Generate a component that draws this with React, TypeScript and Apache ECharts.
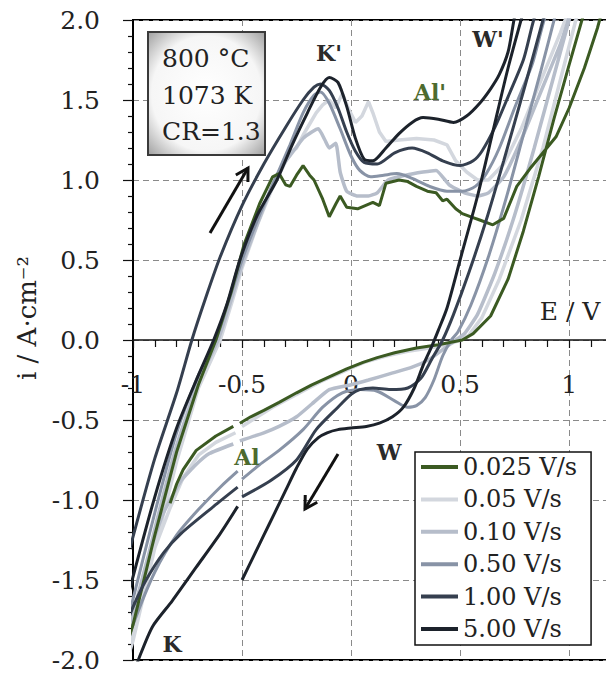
import React, { useEffect, useRef } from 'react';
import * as echarts from 'echarts';

type P = [number, number];

const speeds = ['0.025 V/s', '0.05 V/s', '0.10 V/s', '0.50 V/s', '1.00 V/s', '5.00 V/s'];
const colors = ['#3b5a22', '#d3d7de', '#b6bdca', '#8893a6', '#353f4f', '#1c222b'];
const xTicks = [-1, -0.5, 0, 0.5, 1];
const yTicks = [-2, -1.5, -1, -0.5, 0, 0.5, 1, 1.5, 2];

// 0.025 V/s
const fwd025: P[] = [[-1.05,-2.0],[-1,-1.78],[-0.9,-1.22],[-0.8,-0.7],[-0.7,-0.28],[-0.62,0],[-0.55,0.3],[-0.49,0.6],[-0.42,0.85],[-0.36,1.02],[-0.33,1.04],[-0.3,0.97],[-0.28,0.96],[-0.25,1.03],[-0.22,1.09],[-0.19,1.03],[-0.17,1.0],[-0.13,0.88],[-0.1,0.77],[-0.07,0.85],[-0.05,0.9],[-0.02,0.83],[0.03,0.82],[0.1,0.86],[0.13,0.84],[0.16,0.98],[0.22,1.0],[0.26,0.99],[0.3,0.96],[0.35,0.93],[0.39,0.92],[0.42,0.87],[0.44,0.88],[0.48,0.82],[0.51,0.79],[0.55,0.77],[0.59,0.75],[0.65,0.72],[0.7,0.76],[0.76,0.96],[0.82,1.07],[0.88,1.17],[0.94,1.27],[1.0,1.45],[1.07,1.7],[1.13,1.95],[1.16,2.1]];
const rev025a: P[] = [[1.08,2.1],[1.0,1.72],[0.93,1.38],[0.86,1.02],[0.79,0.68],[0.72,0.38],[0.64,0.15],[0.56,0.04],[0.51,0],[0.4,-0.03],[0.3,-0.05],[0.2,-0.08],[0.12,-0.11],[0.055,-0.14],[-0.02,-0.18],[-0.1,-0.23],[-0.18,-0.28],[-0.25,-0.33],[-0.33,-0.39],[-0.4,-0.44],[-0.46,-0.48],[-0.51,-0.52]];
const rev025b: P[] = [[-0.54,-0.54],[-0.62,-0.6],[-0.71,-0.69],[-0.77,-0.81],[-0.8,-0.9],[-0.83,-1.02]];

// 0.05 V/s
const fwd005: P[] = [[-1.05,-2.1],[-1,-1.88],[-0.9,-1.3],[-0.8,-0.76],[-0.7,-0.3],[-0.6,0],[-0.55,0.22],[-0.5,0.45],[-0.43,0.72],[-0.37,0.92],[-0.32,1.06],[-0.28,1.17],[-0.25,1.2],[-0.22,1.28],[-0.19,1.35],[-0.16,1.42],[-0.13,1.47],[-0.1,1.5],[-0.07,1.45],[-0.04,1.54],[-0.01,1.44],[0.02,1.36],[0.05,1.4],[0.08,1.49],[0.1,1.42],[0.13,1.3],[0.16,1.24],[0.22,1.25],[0.3,1.26],[0.38,1.25],[0.44,1.22],[0.48,1.12],[0.53,1.05],[0.58,1.0],[0.63,1.0],[0.7,1.1],[0.78,1.32],[0.87,1.62],[0.96,1.92],[1.01,2.1]];
const rev005a: P[] = [[1.05,2.1],[0.97,1.68],[0.88,1.2],[0.78,0.75],[0.68,0.38],[0.6,0.14],[0.54,0.03],[0.5,0.0],[0.44,-0.03],[0.36,-0.05],[0.26,-0.07],[0.16,-0.1],[0.06,-0.14],[-0.04,-0.2],[-0.14,-0.26],[-0.25,-0.34],[-0.36,-0.42],[-0.5,-0.54]];
const rev005b: P[] = [[-0.53,-0.58],[-0.62,-0.64],[-0.7,-0.72],[-0.77,-0.86],[-0.83,-1.05],[-0.9,-1.3],[-0.97,-1.6],[-1.02,-1.92],[-1.05,-2.1]];

// 0.10 V/s
const fwd010: P[] = [[-1.05,-2.05],[-1,-1.75],[-0.9,-1.18],[-0.8,-0.66],[-0.7,-0.26],[-0.61,0],[-0.55,0.25],[-0.5,0.47],[-0.42,0.76],[-0.36,0.97],[-0.31,1.1],[-0.27,1.17],[-0.22,1.26],[-0.18,1.3],[-0.15,1.32],[-0.12,1.25],[-0.1,1.2],[-0.07,1.23],[-0.05,1.05],[-0.02,0.93],[0.03,0.9],[0.08,0.9],[0.12,0.92],[0.17,1.0],[0.25,1.03],[0.33,1.05],[0.39,1.06],[0.45,0.97],[0.52,0.92],[0.58,0.9],[0.63,0.92],[0.7,1.02],[0.78,1.25],[0.87,1.55],[0.96,1.85],[1.02,2.1]];
const rev010a: P[] = [[1.02,2.1],[0.93,1.65],[0.84,1.2],[0.75,0.78],[0.66,0.42],[0.58,0.16],[0.52,0.04],[0.48,0.0],[0.42,-0.06],[0.36,-0.12],[0.28,-0.17],[0.18,-0.21],[0.08,-0.25],[0,-0.28],[-0.1,-0.31],[-0.18,-0.4],[-0.25,-0.48],[-0.33,-0.54],[-0.4,-0.58],[-0.51,-0.63]];
const rev010b: P[] = [[-0.54,-0.65],[-0.65,-0.71],[-0.72,-0.79],[-0.78,-0.88],[-0.86,-1.08],[-0.93,-1.35],[-1.0,-1.72],[-1.05,-2.05]];

// 0.50 V/s
const fwd050: P[] = [[-1.05,-1.9],[-1,-1.62],[-0.9,-1.08],[-0.8,-0.58],[-0.7,-0.22],[-0.62,0],[-0.56,0.25],[-0.5,0.5],[-0.42,0.78],[-0.35,1.0],[-0.28,1.22],[-0.22,1.42],[-0.17,1.53],[-0.14,1.55],[-0.1,1.48],[-0.05,1.32],[0,1.15],[0.04,1.06],[0.09,1.02],[0.15,1.03],[0.21,1.04],[0.28,1.01],[0.36,0.96],[0.44,0.93],[0.51,0.93],[0.57,0.96],[0.62,1.04],[0.68,1.2],[0.75,1.45],[0.83,1.72],[0.92,2.1]];
const rev050a: P[] = [[0.95,2.1],[0.87,1.68],[0.79,1.28],[0.71,0.88],[0.63,0.52],[0.55,0.22],[0.49,0.05],[0.46,0.0],[0.42,-0.1],[0.38,-0.25],[0.34,-0.36],[0.3,-0.41],[0.26,-0.42],[0.2,-0.38],[0.12,-0.32],[0.04,-0.31],[-0.04,-0.33],[-0.13,-0.42],[-0.22,-0.56],[-0.33,-0.69],[-0.42,-0.78],[-0.5,-0.87]];
const rev050b: P[] = [[-0.52,-0.82],[-0.6,-0.92],[-0.7,-1.06],[-0.8,-1.22],[-0.9,-1.45],[-1.0,-1.78],[-1.05,-2.0]];

// 1.00 V/s
const fwd100: P[] = [[-1.05,-1.5],[-1,-1.23],[-0.9,-0.74],[-0.8,-0.33],[-0.73,0],[-0.67,0.25],[-0.6,0.52],[-0.5,0.84],[-0.4,1.1],[-0.3,1.33],[-0.22,1.5],[-0.17,1.58],[-0.14,1.6],[-0.1,1.56],[-0.06,1.45],[-0.02,1.3],[0.02,1.18],[0.06,1.11],[0.12,1.1],[0.2,1.17],[0.28,1.2],[0.35,1.17],[0.42,1.12],[0.5,1.09],[0.56,1.12],[0.6,1.18],[0.66,1.33],[0.72,1.52],[0.79,1.75],[0.87,2.1]];
const rev100a: P[] = [[0.9,2.1],[0.8,1.6],[0.7,1.12],[0.62,0.75],[0.54,0.42],[0.47,0.16],[0.42,0],[0.37,-0.12],[0.32,-0.24],[0.26,-0.3],[0.18,-0.31],[0.1,-0.3],[0.04,-0.31],[0,-0.34],[-0.06,-0.42],[-0.16,-0.56],[-0.25,-0.75],[-0.37,-0.88],[-0.5,-0.98]];
const rev100b: P[] = [[-0.52,-0.92],[-0.63,-1.04],[-0.78,-1.21],[-0.86,-1.33],[-0.94,-1.5],[-1.0,-1.67],[-1.05,-1.85]];

// 5.00 V/s
const fwd500: P[] = [[-1.05,-1.75],[-1,-1.48],[-0.9,-0.98],[-0.8,-0.55],[-0.7,-0.22],[-0.63,0],[-0.57,0.22],[-0.51,0.5],[-0.43,0.78],[-0.34,1.0],[-0.27,1.22],[-0.2,1.42],[-0.14,1.58],[-0.1,1.64],[-0.06,1.61],[-0.02,1.46],[0.02,1.26],[0.06,1.13],[0.1,1.12],[0.16,1.2],[0.22,1.29],[0.28,1.36],[0.33,1.39],[0.4,1.38],[0.47,1.36],[0.53,1.4],[0.59,1.48],[0.64,1.57],[0.68,1.66],[0.72,1.8],[0.77,2.1]];
const rev500a: P[] = [[0.8,2.1],[0.72,1.7],[0.65,1.3],[0.58,0.9],[0.5,0.5],[0.44,0.2],[0.4,0.06],[0.37,-0.04],[0.33,-0.16],[0.29,-0.3],[0.24,-0.42],[0.19,-0.48],[0.13,-0.52],[0.07,-0.54],[0,-0.55],[-0.06,-0.56],[-0.11,-0.58],[-0.15,-0.61],[-0.2,-0.68],[-0.25,-0.8],[-0.3,-0.94],[-0.35,-1.08],[-0.4,-1.22],[-0.45,-1.36],[-0.5,-1.5]];
const rev500b: P[] = [[-0.52,-1.04],[-0.6,-1.21],[-0.71,-1.42],[-0.82,-1.63],[-0.91,-1.79],[-0.97,-1.98],[-1.0,-2.1]];

const branches: P[][][] = [
  [fwd025, rev025a, rev025b],
  [fwd005, rev005a, rev005b],
  [fwd010, rev010a, rev010b],
  [fwd050, rev050a, rev050b],
  [fwd100, rev100a, rev100b],
  [fwd500, rev500a, rev500b],
];
const smoothness = [0, 0, 0.15, 0.25, 0.25, 0.25];
const drawOrder = [1, 2, 3, 0, 4, 5];

const SERIF = 'DejaVu Serif';
const X_MAX = 1.215;
const GRID_TOP = 20;
const ZERO_Y = 340;

function arrow(x1: number, y1: number, x2: number, y2: number, color: string) {
  const dx = x2 - x1, dy = y2 - y1;
  const len = Math.hypot(dx, dy);
  const bx = -dx / len, by = -dy / len;
  const c = Math.cos(Math.PI / 6), s = Math.sin(Math.PI / 6);
  const L = 14;
  const w1 = [x2 + L * (c * bx - s * by), y2 + L * (s * bx + c * by)];
  const w2 = [x2 + L * (c * bx + s * by), y2 + L * (-s * bx + c * by)];
  return [
    { type: 'line', z: 100, shape: { x1, y1, x2, y2 }, style: { stroke: color, lineWidth: 3 } },
    { type: 'polyline', z: 100, shape: { points: [w1, [x2, y2], w2] }, style: { stroke: color, lineWidth: 3, fill: null } },
  ];
}

export default function App() {
  const ref = useRef<HTMLDivElement>(null);
  useEffect(() => {
    if (!ref.current) return;
    const chart = echarts.init(ref.current, undefined, { renderer: 'svg' });
    const series = drawOrder.map((k) => {
      const [f, ra, rb] = branches[k];
      const data: any[] = [...f, ...ra, ['-', '-'], ...rb];
      return {
        type: 'line',
        name: speeds[k],
        xAxisIndex: 0,
        yAxisIndex: 0,
        data,
        symbol: 'none',
        smooth: smoothness[k],
        connectNulls: false,
        clip: true,
        color: colors[k],
        itemStyle: { color: colors[k] },
        lineStyle: { color: colors[k], width: k === 1 || k === 2 ? 3.5 : 3 },
        emphasis: { disabled: true },
      };
    });
    const labelStyle = { fontFamily: SERIF, fontSize: 25, color: '#222' };
    const peakLabel = (text: string, x: number, y: number, color: string) => ({
      type: 'text', z: 100, x, y,
      style: { text, fill: color, font: `bold 22px "${SERIF}"`, align: 'center', verticalAlign: 'middle' },
    });
    chart.setOption({
      animation: false,
      grid: {
        left: 133, top: GRID_TOP, right: -10, bottom: 14,
        outerBoundsMode: 'none', containLabel: false,
        show: true, borderColor: '#000', borderWidth: 2, backgroundColor: 'transparent',
      },
      xAxis: [
        {
          type: 'value', position: 'bottom', min: xTicks[0], max: X_MAX, interval: 0.5,
          axisLine: { show: false, onZero: false },
          axisTick: { show: false },
          axisLabel: { show: false },
          splitLine: { show: true, lineStyle: { color: '#8a8a8a', type: [6, 4], width: 1 } },
        },
        {
          type: 'value', position: 'top', offset: -(ZERO_Y - GRID_TOP), min: xTicks[0], max: X_MAX, interval: 0.5,
          axisLine: { show: true, onZero: false, lineStyle: { color: '#111', width: 1.5 } },
          axisTick: { show: true, inside: true, length: 8, lineStyle: { color: '#111', width: 1.2 } },
          minorTick: { show: true, splitNumber: 5, length: 7, lineStyle: { color: '#111', width: 1.2 } },
          splitLine: { show: false },
          axisLabel: { ...labelStyle, inside: true, margin: 32, showMaxLabel: false, formatter: (v: number) => (xTicks.includes(v) ? String(v) : '') },
        },
      ],
      yAxis: {
        type: 'value', min: yTicks[0], max: yTicks[yTicks.length - 1], interval: 0.5,
        axisLine: { show: true, onZero: false, lineStyle: { color: '#000', width: 2 } },
        axisTick: { show: true, length: 10, lineStyle: { color: '#111', width: 1.2 } },
        minorTick: { show: true, splitNumber: 5, length: 5, lineStyle: { color: '#111', width: 1.2 } },
        splitLine: { show: true, lineStyle: { color: '#8a8a8a', type: [6, 4], width: 1 } },
        axisLabel: { ...labelStyle, margin: 33, formatter: (v: number) => v.toFixed(1) },
      },
      legend: {
        data: speeds, orient: 'vertical', left: 415, top: 452,
        itemWidth: 37, itemHeight: 4, itemGap: 8.4, icon: 'rect',
        padding: [3, 14, 4, 6], backgroundColor: '#fff', borderColor: '#111', borderWidth: 1.5,
        textStyle: { fontFamily: SERIF, fontSize: 24, color: '#222', lineHeight: 24 },
        selectedMode: false,
      },
      series,
      graphic: [
        {
          type: 'rect', z: 100, shape: { x: 148, y: 32, width: 117, height: 123 },
          style: {
            fill: new echarts.graphic.RadialGradient(0.5, 0.5, 0.72, [
              { offset: 0, color: '#ffffff' },
              { offset: 0.65, color: '#f6f6f6' },
              { offset: 1, color: '#9a9a9a' },
            ]),
            stroke: '#3a3a3a', lineWidth: 2,
          },
        },
        { type: 'text', z: 101, x: 162, y: 58, style: { text: '800 °C', fill: '#222', font: `25px "${SERIF}"`, verticalAlign: 'middle' } },
        { type: 'text', z: 101, x: 162, y: 95, style: { text: '1073 K', fill: '#222', font: `25px "${SERIF}"`, verticalAlign: 'middle' } },
        { type: 'text', z: 101, x: 162, y: 131, style: { text: 'CR=1.3', fill: '#222', font: `25px "${SERIF}"`, verticalAlign: 'middle' } },
        { type: 'text', z: 100, x: 570, y: 311, style: { text: 'E / V', fill: '#222', font: `25px "${SERIF}"`, align: 'center', verticalAlign: 'middle' } },
        { type: 'text', z: 100, x: 27, y: 318, rotation: Math.PI / 2, style: { text: 'i / A·cm⁻²', fill: '#222', font: `26px "${SERIF}"`, align: 'center', verticalAlign: 'middle' } },
        peakLabel("K'", 329, 53, '#2a2a2a'),
        peakLabel("W'", 488, 39, '#2a2a2a'),
        peakLabel("Al'", 430, 92, '#4d6b2e'),
        peakLabel('Al', 247, 457, '#4d6b2e'),
        peakLabel('W', 389, 452, '#2a2a2a'),
        peakLabel('K', 172, 644, '#2a2a2a'),
        ...arrow(210, 233, 248, 168, '#111'),
        ...arrow(338, 454, 305, 509, '#111'),
      ],
    });
    return () => chart.dispose();
  }, []);
  return <div ref={ref} style={{ position: 'absolute', left: 0, top: 0, width: 606, height: 674 }} />;
}
